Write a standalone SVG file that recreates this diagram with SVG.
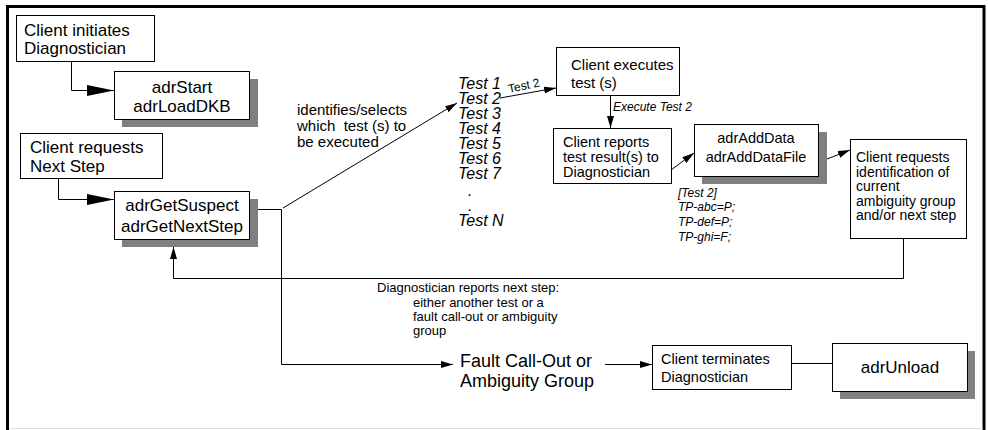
<svg xmlns="http://www.w3.org/2000/svg" width="988" height="430" viewBox="0 0 988 430">
<style>
text{font-family:"Liberation Sans",Arial,Helvetica,sans-serif;fill:#000}
.box{fill:#fff;stroke:#000;stroke-width:1}
.sh{fill:#808080}
.it{font-style:italic}
.c{stroke:#000;stroke-width:1;fill:none}
.mid{text-anchor:middle}
</style>
<defs>
<marker id="big" markerWidth="28" markerHeight="12" refX="27" refY="6" orient="auto" markerUnits="userSpaceOnUse"><path d="M0,0.5 L27,6 L0,11.5 Z" fill="#000"/></marker>
<marker id="arr" markerWidth="13" markerHeight="8" refX="12" refY="4" orient="auto" markerUnits="userSpaceOnUse"><path d="M0,0.5 L12,4 L0,7.5 Z" fill="#000"/></marker>
</defs>
<rect width="988" height="430" fill="#fff"/>
<path d="M7.5,430 V6.5 H984 V430" fill="none" stroke="#000" stroke-width="3"/>
<line x1="9" y1="428.5" x2="983" y2="428.5" stroke="#ddd" stroke-width="1"/>

<g id="connectors">
<path class="c" d="M71.5,61 V90.5 H114" marker-end="url(#big)"/>
<path class="c" d="M58.5,178 V199.5 H114" marker-end="url(#big)"/>
<path class="c" d="M258,209.5 H281.5 V364.5 H453" marker-end="url(#arr)"/>
<path class="c" d="M283,208 L457,103" marker-end="url(#arr)"/>
<path class="c" d="M500,98 L556,88" marker-end="url(#arr)"/>
<path class="c" d="M610.5,95 V128" marker-end="url(#arr)"/>
<path class="c" d="M671,170 L694,153" marker-end="url(#arr)"/>
<path class="c" d="M827,159 L850,150" marker-end="url(#arr)"/>
<path class="c" d="M903.5,238 V278.5 H173.5 V247" marker-end="url(#arr)"/>
<path class="c" d="M605,364.5 H652" marker-end="url(#arr)"/>
<path class="c" d="M791,363.5 H832"/>
<text x="0" y="0" font-size="12" transform="translate(509,93) rotate(-12)">Test 2</text>
<text x="613" y="111" font-size="12" class="it">Execute Test 2</text>
<text font-size="15"><tspan x="297" y="115">identifies/selects</tspan><tspan x="297" y="131">which&#160; test (s) to</tspan><tspan x="297" y="147">be executed</tspan></text>
<text font-size="13"><tspan x="377" y="292">Diagnostician reports next step:</tspan><tspan x="413" y="307">either another test or a</tspan><tspan x="413" y="321">fault call-out or ambiguity</tspan><tspan x="413" y="335">group</tspan></text>
</g>

<g id="n1">
<rect class="box" x="16.5" y="15.5" width="138" height="46"/>
<text font-size="17"><tspan x="24" y="36">Client initiates</tspan><tspan x="24" y="54">Diagnostician</tspan></text>
</g>
<g id="n2">
<rect class="sh" x="122" y="79" width="136" height="48"/>
<rect class="box" x="114.5" y="71.5" width="135" height="48"/>
<text font-size="17" class="mid"><tspan x="182" y="93">adrStart</tspan><tspan x="182" y="112">adrLoadDKB</tspan></text>
</g>
<g id="n3">
<rect class="box" x="20.5" y="133.5" width="142" height="45"/>
<text font-size="17"><tspan x="30" y="153">Client requests</tspan><tspan x="30" y="172">Next Step</tspan></text>
</g>
<g id="n4">
<rect class="sh" x="122" y="199" width="136" height="48"/>
<rect class="box" x="114.5" y="191.5" width="135" height="48"/>
<text font-size="17" class="mid"><tspan x="182" y="211">adrGetSuspect</tspan><tspan x="182" y="232">adrGetNextStep</tspan></text>
</g>
<g id="tests">
<text font-size="16" class="it"><tspan x="458" y="89">Test 1</tspan><tspan x="458" y="104">Test 2</tspan><tspan x="458" y="119">Test 3</tspan><tspan x="458" y="134">Test 4</tspan><tspan x="458" y="149">Test 5</tspan><tspan x="458" y="164">Test 6</tspan><tspan x="458" y="179">Test 7</tspan><tspan x="468" y="196">.</tspan><tspan x="468" y="211">.</tspan><tspan x="458" y="226">Test N</tspan></text>
</g>
<g id="n5">
<rect class="box" x="556.5" y="47.5" width="123" height="48"/>
<text font-size="15"><tspan x="571" y="70">Client executes</tspan><tspan x="571" y="88">test (s)</tspan></text>
</g>
<g id="n6">
<rect class="box" x="553.5" y="128.5" width="118" height="55"/>
<text font-size="14.5"><tspan x="563" y="147">Client reports</tspan><tspan x="563" y="162">test result(s) to</tspan><tspan x="563" y="177">Diagnostician</tspan></text>
</g>
<g id="n7">
<rect class="sh" x="702" y="132" width="125" height="52"/>
<rect class="box" x="694.5" y="124.5" width="124" height="52"/>
<text font-size="14.5" class="mid"><tspan x="756" y="143">adrAddData</tspan><tspan x="756" y="162">adrAddDataFile</tspan></text>
</g>
<g id="testdata">
<text font-size="12" class="it"><tspan x="678" y="197">[Test 2]</tspan><tspan x="678" y="211">TP-abc=P;</tspan><tspan x="678" y="226">TP-def=P;</tspan><tspan x="678" y="241">TP-ghi=F;</tspan></text>
</g>
<g id="n8">
<rect class="box" x="850.5" y="139.5" width="116" height="99"/>
<text font-size="14"><tspan x="856" y="162">Client requests</tspan><tspan x="856" y="176.5">identification of</tspan><tspan x="856" y="191">current</tspan><tspan x="856" y="205.5">ambiguity group</tspan><tspan x="856" y="220">and/or next step</tspan></text>
</g>
<g id="n9">
<text font-size="18"><tspan x="460" y="367">Fault Call-Out or</tspan><tspan x="460" y="387">Ambiguity Group</tspan></text>
</g>
<g id="n10">
<rect class="box" x="652.5" y="345.5" width="139" height="44"/>
<text font-size="14.5"><tspan x="661" y="364">Client terminates</tspan><tspan x="661" y="382">Diagnostician</tspan></text>
</g>
<g id="n11">
<rect class="sh" x="840" y="351" width="135" height="48"/>
<rect class="box" x="832.5" y="343.5" width="135" height="48"/>
<text font-size="17" class="mid" x="900" y="373">adrUnload</text>
</g>
</svg>
